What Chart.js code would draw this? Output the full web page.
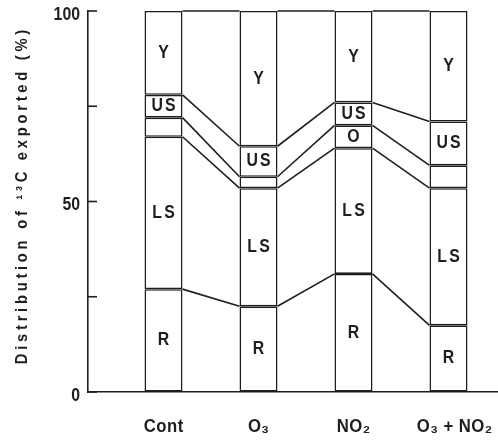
<!DOCTYPE html>
<html>
<head>
<meta charset="utf-8">
<script src="https://cdn.jsdelivr.net/npm/chart.js@4"></script>
<style>
html,body{margin:0;padding:0;background:#fff;}
#wrap{width:498px;height:440px;position:relative;}
</style>
</head>
<body>
<div id="wrap"><canvas id="c"></canvas></div>
<script>
const categories = ['Cont', 'O\u2083', 'NO\u2082', 'O\u2083 + NO\u2082'];
const segR  = [27, 22.5, 31, 17.5];
const segLS = [40, 31, 33, 36];
const segO  = [5, 3, 6, 6];
const segUS = [6, 8, 6, 11.5];
const segY  = [22, 35.5, 24, 29];
const segNames = ['R', 'LS', 'O', 'US', 'Y'];
const showO = [false, false, true, false];
const yTicks = [0, 25, 50, 75, 100];
const yTickLabels = ['0', '', '50', '', '100'];
const yTitle = 'Distribution of \u00B9\u00B3C exported (%)';

const INK = '#1e1e1e';
const FONT = "'Liberation Sans', Arial, 'DejaVu Sans', sans-serif";

const seriesList = [segR, segLS, segO, segUS, segY];
const datasets = seriesList.map((arr, k) => ({
  label: segNames[k],
  data: arr.map((v, i) => ({x: i, y: v})),
  backgroundColor: '#fff',
  borderColor: INK,
  borderWidth: 1.6,
  borderSkipped: false,
  barPercentage: 0.4,
  categoryPercentage: 1.0,
  stack: 's'
}));

function drawText(ctx, txt, x, y, size, align, ls, sx) {
  ctx.save();
  ctx.translate(x, y);
  ctx.scale(sx, 1);
  ctx.font = 'bold ' + size + 'px ' + FONT;
  ctx.letterSpacing = ls + 'px';
  ctx.textAlign = align;
  ctx.textBaseline = 'middle';
  let dx = 0;
  if (align === 'center') dx = ls / 2;
  else if (align === 'right') dx = ls;
  ctx.fillText(txt, dx, 0);
  ctx.restore();
}

const decor = {
  id: 'decor',
  afterDatasetsDraw(chart) {
    const ctx = chart.ctx;
    const ys = chart.scales.y;
    const xs = chart.scales.x;
    const area = chart.chartArea;
    ctx.save();
    ctx.strokeStyle = INK;
    ctx.fillStyle = INK;
    ctx.lineWidth = 1.6;
    // connectors between bars at each boundary
    chart.data.datasets.forEach((ds, k) => {
      const meta = chart.getDatasetMeta(k);
      for (let i = 0; i < meta.data.length - 1; i++) {
        const a = meta.data[i], b = meta.data[i + 1];
        ctx.beginPath();
        ctx.moveTo(a.x + a.width / 2, a.y);
        ctx.lineTo(b.x - b.width / 2, b.y);
        ctx.stroke();
      }
    });
    // inner tick marks on y axis + labels
    const x0 = area.left;
    yTicks.forEach((v, j) => {
      const py = ys.getPixelForValue(v);
      ctx.beginPath();
      ctx.moveTo(x0, py);
      ctx.lineTo(x0 + 9, py);
      ctx.stroke();
      if (yTickLabels[j]) drawText(ctx, yTickLabels[j], x0 - 8, py + 4, 18, 'right', 0, 0.88);
    });
    // category labels
    categories.forEach((c, i) => {
      drawText(ctx, c, xs.getPixelForValue(i) + (i === 3 ? 6 : 0), 427, 19, 'center', 0.5, 0.88);
    });
    // segment labels
    chart.data.datasets.forEach((ds, k) => {
      const meta = chart.getDatasetMeta(k);
      meta.data.forEach((bar, i) => {
        if (segNames[k] === 'O' && !showO[i]) return;
        const cy = (bar.y + bar.base) / 2;
        drawText(ctx, segNames[k], bar.x, cy, 18, 'center', 2.5, 0.88);
      });
    });
    // y title (rotated), fitted to span of reference
    ctx.save();
    ctx.translate(23, 197);
    ctx.rotate(-Math.PI / 2);
    const sx = 0.92;
    ctx.font = 'bold 16px ' + FONT;
    ctx.letterSpacing = '0px';
    const w0 = ctx.measureText(yTitle).width * sx;
    const n = [...yTitle].length;
    const ls = Math.max(0, (338 - w0) / n) / sx;
    ctx.scale(sx, 1);
    ctx.letterSpacing = ls + 'px';
    ctx.textAlign = 'center';
    ctx.textBaseline = 'middle';
    ctx.fillText(yTitle, ls / 2, 0);
    ctx.restore();
    ctx.restore();
  }
};

new Chart(document.getElementById('c'), {
  type: 'bar',
  data: { datasets },
  options: {
    responsive: true,
    maintainAspectRatio: false,
    animation: false,
    layout: { padding: { top: 11, right: 0, left: 0, bottom: 0 } },
    plugins: { legend: { display: false }, tooltip: { enabled: false } },
    scales: {
      x: {
        type: 'linear',
        min: -0.7948,
        max: 3.521,
        offset: false,
        stacked: true,
        grid: { display: true, drawOnChartArea: false, drawTicks: false },
        border: { display: true, color: INK, width: 1.6 },
        afterBuildTicks: s => { s.ticks = categories.map((_, i) => ({ value: i })); },
        afterFit: s => { s.height = 48; },
        ticks: { display: false }
      },
      y: {
        min: 0,
        max: 100,
        stacked: true,
        grid: { display: true, drawOnChartArea: false, drawTicks: false },
        border: { display: true, color: INK, width: 1.6 },
        afterFit: s => { s.width = 88; },
        afterBuildTicks: s => { s.ticks = yTicks.map(v => ({ value: v })); },
        ticks: { display: false }
      }
    }
  },
  plugins: [decor]
});
</script>
</body>
</html>
